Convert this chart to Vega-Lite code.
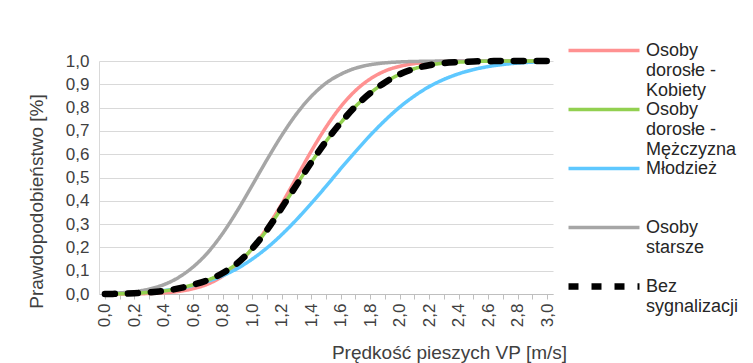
{
  "$schema": "https://vega.github.io/schema/vega-lite/v6.json",
  "width": 454,
  "height": 233,
  "autosize": {"type": "none"},
  "padding": {"left": 99, "top": 61, "right": 200, "bottom": 69},
  "background": "white",
  "config": {
    "font": "Liberation Sans",
    "view": {"stroke": null}
  },
  "data": {
    "values": [
      {"x": 0.0, "s": "Osoby dorosłe - Kobiety", "v": 0.000},
      {"x": 0.1, "s": "Osoby dorosłe - Kobiety", "v": 0.000},
      {"x": 0.2, "s": "Osoby dorosłe - Kobiety", "v": 0.001},
      {"x": 0.3, "s": "Osoby dorosłe - Kobiety", "v": 0.002},
      {"x": 0.4, "s": "Osoby dorosłe - Kobiety", "v": 0.005},
      {"x": 0.5, "s": "Osoby dorosłe - Kobiety", "v": 0.011},
      {"x": 0.6, "s": "Osoby dorosłe - Kobiety", "v": 0.023},
      {"x": 0.7, "s": "Osoby dorosłe - Kobiety", "v": 0.043},
      {"x": 0.8, "s": "Osoby dorosłe - Kobiety", "v": 0.077},
      {"x": 0.9, "s": "Osoby dorosłe - Kobiety", "v": 0.127},
      {"x": 1.0, "s": "Osoby dorosłe - Kobiety", "v": 0.196},
      {"x": 1.1, "s": "Osoby dorosłe - Kobiety", "v": 0.284},
      {"x": 1.2, "s": "Osoby dorosłe - Kobiety", "v": 0.387},
      {"x": 1.3, "s": "Osoby dorosłe - Kobiety", "v": 0.500},
      {"x": 1.4, "s": "Osoby dorosłe - Kobiety", "v": 0.613},
      {"x": 1.5, "s": "Osoby dorosłe - Kobiety", "v": 0.716},
      {"x": 1.6, "s": "Osoby dorosłe - Kobiety", "v": 0.804},
      {"x": 1.7, "s": "Osoby dorosłe - Kobiety", "v": 0.873},
      {"x": 1.8, "s": "Osoby dorosłe - Kobiety", "v": 0.923},
      {"x": 1.9, "s": "Osoby dorosłe - Kobiety", "v": 0.957},
      {"x": 2.0, "s": "Osoby dorosłe - Kobiety", "v": 0.977},
      {"x": 2.1, "s": "Osoby dorosłe - Kobiety", "v": 0.989},
      {"x": 2.2, "s": "Osoby dorosłe - Kobiety", "v": 0.995},
      {"x": 2.3, "s": "Osoby dorosłe - Kobiety", "v": 0.998},
      {"x": 2.4, "s": "Osoby dorosłe - Kobiety", "v": 0.999},
      {"x": 2.5, "s": "Osoby dorosłe - Kobiety", "v": 1.000},
      {"x": 2.6, "s": "Osoby dorosłe - Kobiety", "v": 1.000},
      {"x": 2.7, "s": "Osoby dorosłe - Kobiety", "v": 1.000},
      {"x": 2.8, "s": "Osoby dorosłe - Kobiety", "v": 1.000},
      {"x": 2.9, "s": "Osoby dorosłe - Kobiety", "v": 1.000},
      {"x": 3.0, "s": "Osoby dorosłe - Kobiety", "v": 1.000},

      {"x": 0.0, "s": "Młodzież", "v": 0.002},
      {"x": 0.1, "s": "Młodzież", "v": 0.003},
      {"x": 0.2, "s": "Młodzież", "v": 0.005},
      {"x": 0.3, "s": "Młodzież", "v": 0.009},
      {"x": 0.4, "s": "Młodzież", "v": 0.015},
      {"x": 0.5, "s": "Młodzież", "v": 0.024},
      {"x": 0.6, "s": "Młodzież", "v": 0.037},
      {"x": 0.7, "s": "Młodzież", "v": 0.055},
      {"x": 0.8, "s": "Młodzież", "v": 0.079},
      {"x": 0.9, "s": "Młodzież", "v": 0.110},
      {"x": 1.0, "s": "Młodzież", "v": 0.150},
      {"x": 1.1, "s": "Młodzież", "v": 0.198},
      {"x": 1.2, "s": "Młodzież", "v": 0.255},
      {"x": 1.3, "s": "Młodzież", "v": 0.319},
      {"x": 1.4, "s": "Młodzież", "v": 0.389},
      {"x": 1.5, "s": "Młodzież", "v": 0.462},
      {"x": 1.6, "s": "Młodzież", "v": 0.538},
      {"x": 1.7, "s": "Młodzież", "v": 0.611},
      {"x": 1.8, "s": "Młodzież", "v": 0.681},
      {"x": 1.9, "s": "Młodzież", "v": 0.745},
      {"x": 2.0, "s": "Młodzież", "v": 0.802},
      {"x": 2.1, "s": "Młodzież", "v": 0.850},
      {"x": 2.2, "s": "Młodzież", "v": 0.890},
      {"x": 2.3, "s": "Młodzież", "v": 0.921},
      {"x": 2.4, "s": "Młodzież", "v": 0.945},
      {"x": 2.5, "s": "Młodzież", "v": 0.963},
      {"x": 2.6, "s": "Młodzież", "v": 0.976},
      {"x": 2.7, "s": "Młodzież", "v": 0.985},
      {"x": 2.8, "s": "Młodzież", "v": 0.991},
      {"x": 2.9, "s": "Młodzież", "v": 0.995},
      {"x": 3.0, "s": "Młodzież", "v": 0.997},

      {"x": 0.0, "s": "Osoby starsze", "v": 0.002},
      {"x": 0.1, "s": "Osoby starsze", "v": 0.005},
      {"x": 0.2, "s": "Osoby starsze", "v": 0.010},
      {"x": 0.3, "s": "Osoby starsze", "v": 0.021},
      {"x": 0.4, "s": "Osoby starsze", "v": 0.040},
      {"x": 0.5, "s": "Osoby starsze", "v": 0.071},
      {"x": 0.6, "s": "Osoby starsze", "v": 0.117},
      {"x": 0.7, "s": "Osoby starsze", "v": 0.179},
      {"x": 0.8, "s": "Osoby starsze", "v": 0.261},
      {"x": 0.9, "s": "Osoby starsze", "v": 0.359},
      {"x": 1.0, "s": "Osoby starsze", "v": 0.467},
      {"x": 1.1, "s": "Osoby starsze", "v": 0.577},
      {"x": 1.2, "s": "Osoby starsze", "v": 0.681},
      {"x": 1.3, "s": "Osoby starsze", "v": 0.773},
      {"x": 1.4, "s": "Osoby starsze", "v": 0.848},
      {"x": 1.5, "s": "Osoby starsze", "v": 0.905},
      {"x": 1.6, "s": "Osoby starsze", "v": 0.943},
      {"x": 1.7, "s": "Osoby starsze", "v": 0.969},
      {"x": 1.8, "s": "Osoby starsze", "v": 0.984},
      {"x": 1.9, "s": "Osoby starsze", "v": 0.992},
      {"x": 2.0, "s": "Osoby starsze", "v": 0.996},
      {"x": 2.1, "s": "Osoby starsze", "v": 0.998},
      {"x": 2.2, "s": "Osoby starsze", "v": 0.999},
      {"x": 2.3, "s": "Osoby starsze", "v": 1.000},
      {"x": 2.4, "s": "Osoby starsze", "v": 1.000},
      {"x": 2.5, "s": "Osoby starsze", "v": 1.000},
      {"x": 2.6, "s": "Osoby starsze", "v": 1.000},
      {"x": 2.7, "s": "Osoby starsze", "v": 1.000},
      {"x": 2.8, "s": "Osoby starsze", "v": 1.000},
      {"x": 2.9, "s": "Osoby starsze", "v": 1.000},
      {"x": 3.0, "s": "Osoby starsze", "v": 1.000},

      {"x": 0.0, "s": "Osoby dorosłe - Mężczyzna", "v": 0.000},
      {"x": 0.1, "s": "Osoby dorosłe - Mężczyzna", "v": 0.001},
      {"x": 0.2, "s": "Osoby dorosłe - Mężczyzna", "v": 0.003},
      {"x": 0.3, "s": "Osoby dorosłe - Mężczyzna", "v": 0.007},
      {"x": 0.4, "s": "Osoby dorosłe - Mężczyzna", "v": 0.013},
      {"x": 0.5, "s": "Osoby dorosłe - Mężczyzna", "v": 0.024},
      {"x": 0.6, "s": "Osoby dorosłe - Mężczyzna", "v": 0.040},
      {"x": 0.7, "s": "Osoby dorosłe - Mężczyzna", "v": 0.060},
      {"x": 0.8, "s": "Osoby dorosłe - Mężczyzna", "v": 0.090},
      {"x": 0.9, "s": "Osoby dorosłe - Mężczyzna", "v": 0.133},
      {"x": 1.0, "s": "Osoby dorosłe - Mężczyzna", "v": 0.195},
      {"x": 1.1, "s": "Osoby dorosłe - Mężczyzna", "v": 0.275},
      {"x": 1.2, "s": "Osoby dorosłe - Mężczyzna", "v": 0.370},
      {"x": 1.3, "s": "Osoby dorosłe - Mężczyzna", "v": 0.468},
      {"x": 1.4, "s": "Osoby dorosłe - Mężczyzna", "v": 0.565},
      {"x": 1.5, "s": "Osoby dorosłe - Mężczyzna", "v": 0.655},
      {"x": 1.6, "s": "Osoby dorosłe - Mężczyzna", "v": 0.735},
      {"x": 1.7, "s": "Osoby dorosłe - Mężczyzna", "v": 0.805},
      {"x": 1.8, "s": "Osoby dorosłe - Mężczyzna", "v": 0.862},
      {"x": 1.9, "s": "Osoby dorosłe - Mężczyzna", "v": 0.908},
      {"x": 2.0, "s": "Osoby dorosłe - Mężczyzna", "v": 0.943},
      {"x": 2.1, "s": "Osoby dorosłe - Mężczyzna", "v": 0.967},
      {"x": 2.2, "s": "Osoby dorosłe - Mężczyzna", "v": 0.982},
      {"x": 2.3, "s": "Osoby dorosłe - Mężczyzna", "v": 0.991},
      {"x": 2.4, "s": "Osoby dorosłe - Mężczyzna", "v": 0.995},
      {"x": 2.5, "s": "Osoby dorosłe - Mężczyzna", "v": 0.998},
      {"x": 2.6, "s": "Osoby dorosłe - Mężczyzna", "v": 0.999},
      {"x": 2.7, "s": "Osoby dorosłe - Mężczyzna", "v": 1.000},
      {"x": 2.8, "s": "Osoby dorosłe - Mężczyzna", "v": 1.000},
      {"x": 2.9, "s": "Osoby dorosłe - Mężczyzna", "v": 1.000},
      {"x": 3.0, "s": "Osoby dorosłe - Mężczyzna", "v": 1.000},

      {"x": 0.0, "s": "Bez sygnalizacji", "v": 0.000},
      {"x": 0.1, "s": "Bez sygnalizacji", "v": 0.001},
      {"x": 0.2, "s": "Bez sygnalizacji", "v": 0.003},
      {"x": 0.3, "s": "Bez sygnalizacji", "v": 0.007},
      {"x": 0.4, "s": "Bez sygnalizacji", "v": 0.013},
      {"x": 0.5, "s": "Bez sygnalizacji", "v": 0.024},
      {"x": 0.6, "s": "Bez sygnalizacji", "v": 0.040},
      {"x": 0.7, "s": "Bez sygnalizacji", "v": 0.060},
      {"x": 0.8, "s": "Bez sygnalizacji", "v": 0.090},
      {"x": 0.9, "s": "Bez sygnalizacji", "v": 0.133},
      {"x": 1.0, "s": "Bez sygnalizacji", "v": 0.195},
      {"x": 1.1, "s": "Bez sygnalizacji", "v": 0.275},
      {"x": 1.2, "s": "Bez sygnalizacji", "v": 0.370},
      {"x": 1.3, "s": "Bez sygnalizacji", "v": 0.468},
      {"x": 1.4, "s": "Bez sygnalizacji", "v": 0.565},
      {"x": 1.5, "s": "Bez sygnalizacji", "v": 0.655},
      {"x": 1.6, "s": "Bez sygnalizacji", "v": 0.735},
      {"x": 1.7, "s": "Bez sygnalizacji", "v": 0.805},
      {"x": 1.8, "s": "Bez sygnalizacji", "v": 0.862},
      {"x": 1.9, "s": "Bez sygnalizacji", "v": 0.908},
      {"x": 2.0, "s": "Bez sygnalizacji", "v": 0.943},
      {"x": 2.1, "s": "Bez sygnalizacji", "v": 0.967},
      {"x": 2.2, "s": "Bez sygnalizacji", "v": 0.982},
      {"x": 2.3, "s": "Bez sygnalizacji", "v": 0.991},
      {"x": 2.4, "s": "Bez sygnalizacji", "v": 0.995},
      {"x": 2.5, "s": "Bez sygnalizacji", "v": 0.998},
      {"x": 2.6, "s": "Bez sygnalizacji", "v": 0.999},
      {"x": 2.7, "s": "Bez sygnalizacji", "v": 1.000},
      {"x": 2.8, "s": "Bez sygnalizacji", "v": 1.000},
      {"x": 2.9, "s": "Bez sygnalizacji", "v": 1.000},
      {"x": 3.0, "s": "Bez sygnalizacji", "v": 1.000}
    ]
  },
  "mark": {"type": "line", "interpolate": "monotone", "strokeCap": "round", "strokeJoin": "round"},
  "encoding": {
    "x": {
      "field": "x",
      "type": "quantitative",
      "scale": {"domain": [-0.04, 3.04], "nice": false, "zero": false},
      "axis": {
        "title": "Prędkość pieszych VP [m/s]",
        "values": [0,0.1,0.2,0.3,0.4,0.5,0.6,0.7,0.8,0.9,1,1.1,1.2,1.3,1.4,1.5,1.6,1.7,1.8,1.9,2,2.1,2.2,2.3,2.4,2.5,2.6,2.7,2.8,2.9,3],
        "labelExpr": "round(datum.value*10) % 2 == 0 ? replace(format(datum.value, '.1f'), '.', ',') : ''",
        "labelAngle": -90,
        "labelFontSize": 17,
        "labelColor": "#404040",
        "labelPadding": 4,
        "labelOverlap": false,
        "labelFlush": false,
        "grid": false,
        "tickSize": 5,
        "tickColor": "#BFBFBF",
        "domainColor": "#BFBFBF",
        "titleFontSize": 19,
        "titleFontWeight": "normal",
        "titleColor": "#404040",
        "titleX": 350,
        "titleY": 64,
        "titleAlign": "center",
        "titleBaseline": "alphabetic"
      }
    },
    "y": {
      "field": "v",
      "type": "quantitative",
      "scale": {"domain": [0, 1], "nice": false},
      "axis": {
        "title": "Prawdopodobieństwo [%]",
        "values": [0,0.1,0.2,0.3,0.4,0.5,0.6,0.7,0.8,0.9,1],
        "labelExpr": "replace(format(datum.value, '.1f'), '.', ',')",
        "labelFontSize": 17,
        "labelColor": "#404040",
        "labelPadding": 10,
        "ticks": false,
        "gridColor": "#D9D9D9",
        "domainColor": "#D9D9D9",
        "titleFontSize": 19,
        "titleFontWeight": "normal",
        "titleColor": "#404040",
        "titleX": -63,
        "titleY": 140,
        "titleAngle": -90,
        "titleAlign": "center",
        "titleBaseline": "middle"
      }
    },
    "color": {
      "field": "s",
      "type": "nominal",
      "scale": {
        "domain": ["Osoby dorosłe - Kobiety", "Osoby dorosłe - Mężczyzna", "Młodzież", "Osoby starsze", "Bez sygnalizacji"],
        "range": ["#FF9191", "#92D050", "#5EC8FF", "#A6A6A6", "#000000"]
      },
      "legend": {
        "title": null,
        "orient": "none",
        "legendX": 466,
        "legendY": -19,
        "direction": "vertical",
        "symbolType": "stroke",
        "symbolSize": 5041,
        "clipHeight": 17,
        "labelFontSize": 18,
        "labelColor": "#262626",
        "labelOffset": 3,
        "labelBaseline": "middle",
        "labelLineHeight": 21,
        "labelLimit": 200,
        "rowPadding": 0,
        "padding": 0,
        "labelExpr": "datum.label == 'Osoby dorosłe - Kobiety' ? ['Osoby', 'dorosłe -', 'Kobiety'] : datum.label == 'Osoby dorosłe - Mężczyzna' ? ['Osoby', 'dorosłe -', 'Mężczyzna'] : datum.label == 'Osoby starsze' ? ['Osoby', 'starsze', ''] : datum.label == 'Bez sygnalizacji' ? ['Bez', 'sygnalizacji', ''] : [datum.label, '', '']"
      }
    },
    "strokeDash": {
      "field": "s",
      "type": "nominal",
      "scale": {
        "type": "ordinal",
        "domain": ["Osoby dorosłe - Kobiety", "Osoby dorosłe - Mężczyzna", "Młodzież", "Osoby starsze", "Bez sygnalizacji"],
        "range": [[1, 0], [1, 0], [1, 0], [1, 0], [10, 13]]
      }
    },
    "strokeWidth": {
      "field": "s",
      "type": "nominal",
      "scale": {
        "type": "ordinal",
        "domain": ["Osoby dorosłe - Kobiety", "Osoby dorosłe - Mężczyzna", "Młodzież", "Osoby starsze", "Bez sygnalizacji"],
        "range": [3.5, 3.5, 3.5, 3.5, 6.5]
      }
    }
  }
}
